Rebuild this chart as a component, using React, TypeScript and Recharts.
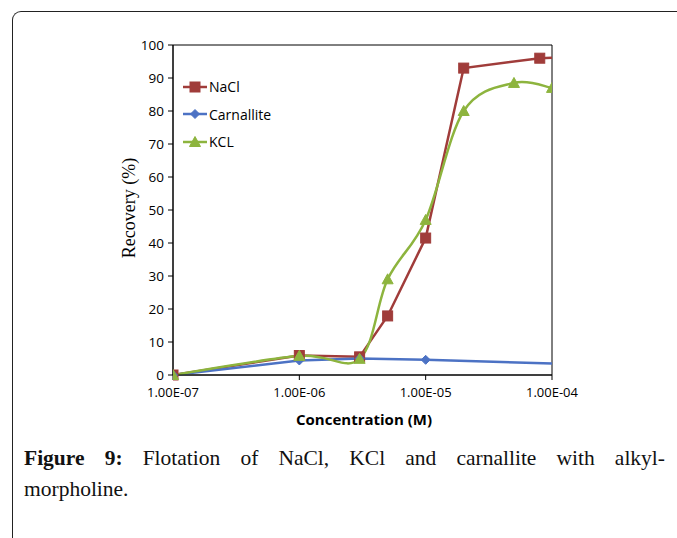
import React from 'react';
import { LineChart, Line, XAxis, YAxis, ReferenceArea, Label } from 'recharts';

// ---- data ----
const concentrationTicks = [1e-7, 1e-6, 1e-5, 1e-4];
const recoveryTicks = [0, 10, 20, 30, 40, 50, 60, 70, 80, 90, 100];

const naclConc = [1e-7, 1e-6, 3e-6, 5e-6, 1e-5, 2e-5, 8e-5, 1e-4];
const naclRecovery = [0, 5.9, 5.5, 17.9, 41.5, 93, 96, 96.1];

const carnalliteConc = [1e-7, 1e-6, 3e-6, 1e-5, 1e-4];
const carnalliteRecovery = [0, 4.4, 5.0, 4.6, 3.5];

const kclConc = [1e-7, 1e-6, 3e-6, 5e-6, 1e-5, 2e-5, 5e-5, 1e-4];
const kclRecovery = [0, 5.8, 4.9, 29, 47, 80, 88.5, 87];

// points drawn without a marker (line runs on to the axis edge)
const naclNoMarker = [1e-4];
const carnalliteNoMarker = [1e-4];

const toRows = (xs: number[], ys: number[]) => xs.map((x, i) => ({ x, y: ys[i] }));

const naclData = toRows(naclConc, naclRecovery);
const carnalliteData = toRows(carnalliteConc, carnalliteRecovery);
const kclData = toRows(kclConc, kclRecovery);

const RED = '#A03C3A';
const BLUE = '#4C72C4';
const GREEN = '#8DB43E';
const SANS = '"Open Sans", "Liberation Sans", sans-serif';
const SERIF = '"Liberation Serif", "DejaVu Serif", serif';

const fmtExp = (v: number) => {
  const [m, e] = v.toExponential(2).split('e');
  const sign = e[0] === '-' ? '-' : '+';
  const digits = e.replace(/^[+-]/, '').padStart(2, '0');
  return `${m}E${sign}${digits}`;
};

// Excel-like smoothed line (Catmull-Rom as bezier)
const excelSmooth: any = (context: any) => {
  let pts: number[][] = [];
  return {
    areaStart() {},
    areaEnd() {},
    lineStart() {
      pts = [];
    },
    point(x: number, y: number) {
      pts.push([+x, +y]);
    },
    lineEnd() {
      if (!pts.length) return;
      context.moveTo(pts[0][0], pts[0][1]);
      for (let i = 0; i < pts.length - 1; i++) {
        const p0 = pts[i - 1] || pts[i];
        const p1 = pts[i];
        const p2 = pts[i + 1];
        const p3 = pts[i + 2] || p2;
        context.bezierCurveTo(
          p1[0] + (p2[0] - p0[0]) / 6,
          p1[1] + (p2[1] - p0[1]) / 6,
          p2[0] - (p3[0] - p1[0]) / 6,
          p2[1] - (p3[1] - p1[1]) / 6,
          p2[0],
          p2[1]
        );
      }
    },
  };
};

const Square = ({ cx, cy, color }: any) => (
  <rect x={cx - 5} y={cy - 5} width={10} height={10} fill={color} stroke={color} />
);
const Diamond = ({ cx, cy, color }: any) => (
  <path d={`M${cx},${cy - 4.5}L${cx + 4.5},${cy}L${cx},${cy + 4.5}L${cx - 4.5},${cy}Z`} fill={color} stroke={color} />
);
const Triangle = ({ cx, cy, color }: any) => (
  <path d={`M${cx},${cy - 5.5}L${cx + 5.5},${cy + 4.5}L${cx - 5.5},${cy + 4.5}Z`} fill={color} stroke={color} />
);

const makeDot = (Shape: any, color: string, hidden: number[] = []) => (props: any) => {
  const { cx, cy, index, payload } = props;
  if (cx == null || cy == null || hidden.includes(payload.x)) {
    return <g key={`d-${index}`} />;
  }
  return (
    <g key={`d-${index}`}>
      <Shape cx={cx} cy={cy} color={color} />
    </g>
  );
};

const legendItems = [
  { name: 'NaCl', color: RED, Shape: Square },
  { name: 'Carnallite', color: BLUE, Shape: Diamond },
  { name: 'KCL', color: GREEN, Shape: Triangle },
];

const LegendBox = () => (
  <div style={{ position: 'absolute', left: 182, top: 73, fontFamily: SANS, fontSize: 14, color: '#000' }}>
    {legendItems.map((it) => (
      <div key={it.name} style={{ display: 'flex', alignItems: 'center', height: 27.5 }}>
        <svg width={26} height={14} style={{ display: 'block' }}>
          <line x1={1} y1={7} x2={25} y2={7} stroke={it.color} strokeWidth={2.5} />
          <it.Shape cx={13} cy={7} color={it.color} />
        </svg>
        <span style={{ marginLeft: 1 }}>{it.name}</span>
      </div>
    ))}
  </div>
);

export default function App() {
  return (
    <div style={{ position: 'absolute', left: 0, top: 0, width: 677, height: 538, background: '#fff', overflow: 'hidden' }}>
      <div
        style={{
          position: 'absolute',
          left: 12,
          top: 11,
          width: 720,
          height: 600,
          borderLeft: '1.5px solid #222',
          borderTop: '1.5px solid #222',
          borderTopLeftRadius: 9,
        }}
      />
      <div style={{ position: 'absolute', left: 0, top: 0 }}>
        <LineChart width={677} height={440} margin={{ top: 45, right: 125, bottom: 35, left: 113 }}>
          <XAxis
            dataKey="x"
            type="number"
            scale="log"
            domain={[1e-7, 1e-4]}
            ticks={concentrationTicks}
            tickFormatter={fmtExp}
            allowDataOverflow
            height={30}
            stroke="#000"
            tickSize={5}
            tickMargin={8}
            tick={{ fill: '#000', fontSize: 13, fontFamily: SANS }}
          >
            <Label
              value="Concentration (M)"
              content={() => (
                <text x={364} y={425} textAnchor="middle" fontFamily={SANS} fontWeight="bold" fontSize={15} fill="#000">
                  Concentration (M)
                </text>
              )}
            />
          </XAxis>
          <YAxis
            type="number"
            domain={[0, 100]}
            ticks={recoveryTicks}
            width={60}
            stroke="#000"
            tickSize={5}
            tickMargin={4}
            interval={0}
            tick={{ fill: '#000', fontSize: 13.5, fontFamily: SANS }}
          >
            <Label
              value="Recovery (%)"
              content={() => (
                <text
                  x={135}
                  y={208}
                  transform="rotate(-90 135 208)"
                  textAnchor="middle"
                  fontFamily={SERIF}
                  fontSize={18}
                  fill="#000"
                >
                  Recovery (%)
                </text>
              )}
            />
          </YAxis>
          <ReferenceArea x1={1e-7} x2={1e-4} y1={0} y2={100} fill="none" stroke="#000" strokeWidth={1} />
          <Line
            name="NaCl"
            data={naclData}
            dataKey="y"
            type="linear"
            stroke={RED}
            strokeWidth={2.5}
            dot={makeDot(Square, RED, naclNoMarker)}
            isAnimationActive={false}
          />
          <Line
            name="Carnallite"
            data={carnalliteData}
            dataKey="y"
            type="linear"
            stroke={BLUE}
            strokeWidth={2.5}
            dot={makeDot(Diamond, BLUE, carnalliteNoMarker)}
            isAnimationActive={false}
          />
          <Line
            name="KCL"
            data={kclData}
            dataKey="y"
            type={excelSmooth}
            stroke={GREEN}
            strokeWidth={2.5}
            dot={makeDot(Triangle, GREEN)}
            isAnimationActive={false}
          />
        </LineChart>
      </div>
      <LegendBox />
      <div
        style={{
          position: 'absolute',
          left: 24,
          top: 443,
          width: 641,
          fontFamily: SERIF,
          fontSize: 21.5,
          lineHeight: '31px',
          color: '#111',
        }}
      >
        <div style={{ textAlign: 'justify', textAlignLast: 'justify' }}>
          <b>Figure 9:</b> Flotation of NaCl, KCl and carnallite with alkyl-
        </div>
        <div>morpholine.</div>
      </div>
    </div>
  );
}
